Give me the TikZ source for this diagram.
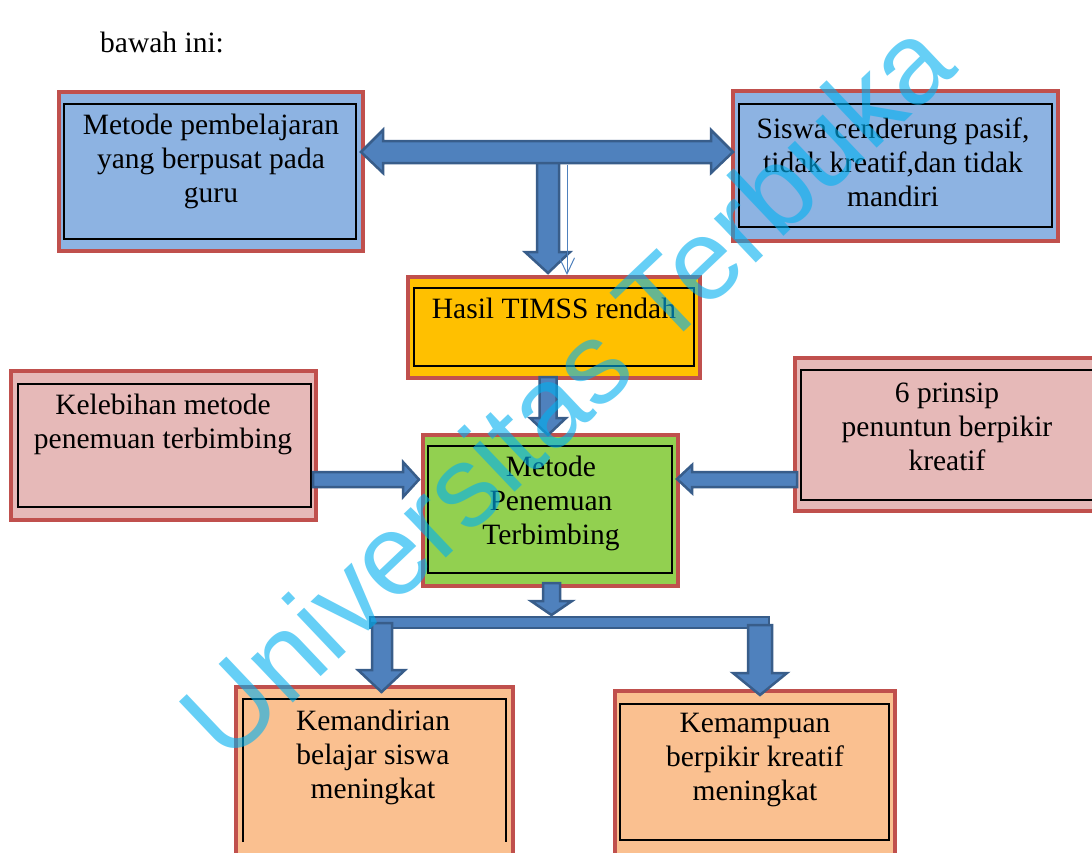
\documentclass[tikz,border=0pt]{standalone}
\usepackage{fontspec}
\setmainfont{Liberation Serif}
\newfontfamily\wmfont{Liberation Sans}
\usetikzlibrary{arrows.meta}
\definecolor{redb}{HTML}{C0504D}
\definecolor{bluef}{HTML}{8DB3E2}
\definecolor{yellowf}{HTML}{FFC000}
\definecolor{greenf}{HTML}{92D050}
\definecolor{pinkf}{HTML}{E6B9B8}
\definecolor{peachf}{HTML}{FAC090}
\definecolor{arrowf}{HTML}{4F81BD}
\definecolor{arrowd}{HTML}{385D8A}
\definecolor{wm}{RGB}{0,176,240}
\tikzset{
  outerbox/.style={draw=redb, line width=4pt, inner sep=0pt, outer sep=0pt, rectangle},
  innerbox/.style={draw=black, line width=2.5pt},
  label/.style={align=center, inner sep=0pt, font=\fontsize{29.5}{34}\selectfont},
  blockarrow/.style={fill=arrowf, draw=arrowd, line width=2.5pt, line join=miter},
}
\begin{document}
\begin{tikzpicture}[x=1pt,y=-1pt]
\useasboundingbox (0,0) rectangle (1092,852);
\clip (0,0) rectangle (1092,852);
\fill[white] (0,0) rectangle (1092,852);

% intro text
\node[label, anchor=west] (intro) at (100,42) {bawah ini:};

% boxes
\node[outerbox, fill=bluef, minimum width=304pt, minimum height=159pt] (A) at (211,171.5) {};
\draw[innerbox] (64,104) rectangle (356,239);
\node[label] (At) at (211,161) {Metode pembelajaran\\yang berpusat pada\\guru};

\node[outerbox, fill=bluef, minimum width=325pt, minimum height=150pt] (B) at (895.5,166) {};
\draw[innerbox] (739,104) rectangle (1052,227);
\node[label] (Bt) at (893,162) {Siswa cenderung pasif,\\tidak kreatif,dan tidak\\mandiri};

\node[outerbox, fill=yellowf, minimum width=292pt, minimum height=101pt] (C) at (554,327.5) {};
\draw[innerbox] (414,288) rectangle (694,366);
\node[label] (Ct) at (554,308) {Hasil TIMSS rendah};

\node[outerbox, fill=greenf, minimum width=255pt, minimum height=151pt] (D) at (550.5,510.5) {};
\draw[innerbox] (428,446) rectangle (672,573);
\node[label] (Dt) at (551,503) {Metode\\Penemuan\\Terbimbing};

\node[outerbox, fill=pinkf, minimum width=305pt, minimum height=149pt] (E) at (163.5,445.5) {};
\draw[innerbox] (18,384) rectangle (311,507);
\node[label] (Et) at (163,424) {Kelebihan metode\\penemuan terbimbing};

\node[outerbox, fill=pinkf, minimum width=315pt, minimum height=153pt] (F) at (952.5,434.5) {};
\draw[innerbox] (801,370) rectangle (1104,500);
\node[label] (Ft) at (947,427) {6 prinsip\\penuntun berpikir\\kreatif};

\node[outerbox, fill=peachf, minimum width=277pt, minimum height=180pt] (G) at (374.5,777) {};
\draw[innerbox] (243,842) -- (243,699) -- (506,699) -- (506,842);
\node[label] (Gt) at (373,757) {Kemandirian\\belajar siswa\\meningkat};

\node[outerbox, fill=peachf, minimum width=280pt, minimum height=180pt] (H) at (755,781) {};
\draw[innerbox] (620,704) rectangle (889,840);
\node[label] (Ht) at (755,760) {Kemampuan\\berpikir kreatif\\meningkat};

% top arrows
\draw[blockarrow] (537,158) -- (559,158) -- (559,252) -- (570,252) -- (548,273) -- (525,252) -- (537,252) -- cycle;
\draw[blockarrow] (361,152) -- (383,130) -- (383,141) -- (711,141) -- (711,130) -- (733,152)
  -- (711,173) -- (711,163) -- (383,163) -- (383,173) -- cycle;
\coordinate (thinstart) at (567,165);
\draw[arrowf, line width=1pt, -{Straight Barb[length=16pt,width=15pt,line width=1pt]}] (thinstart) -- (567,275);

% C -> D
\draw[blockarrow] (539.5,377) -- (556.5,377) -- (556.5,418) -- (566,418) -- (548,435) -- (530,418) -- (539.5,418) -- cycle;
% E -> D
\draw[blockarrow] (313,472) -- (403,472) -- (403,462) -- (419,479.5) -- (403,497) -- (403,487) -- (313,487) -- cycle;
% F -> D
\draw[blockarrow] (797,472) -- (692,472) -- (692,465) -- (677,479) -- (692,493) -- (692,487) -- (797,487) -- cycle;

% bottom branching
\draw[blockarrow] (543,583) -- (560,583) -- (560,601) -- (572,601) -- (551.5,615) -- (531,601) -- (543,601) -- cycle;
\draw[blockarrow] (370,617) rectangle (769,628);
\draw[blockarrow] (372,623) -- (392,623) -- (392,670) -- (405,670) -- (381.5,692) -- (358,670) -- (372,670) -- cycle;
\draw[blockarrow] (748,625) -- (772,625) -- (772,673) -- (787,673) -- (760,695) -- (733,673) -- (748,673) -- cycle;

% watermark
\node[rotate=43.5, text=wm, text opacity=0.6, inner sep=0pt,
  font=\wmfont\fontsize{115}{115}\selectfont] (wmark) at (565,388) {Universitas Terbuka};
\end{tikzpicture}
\end{document}
